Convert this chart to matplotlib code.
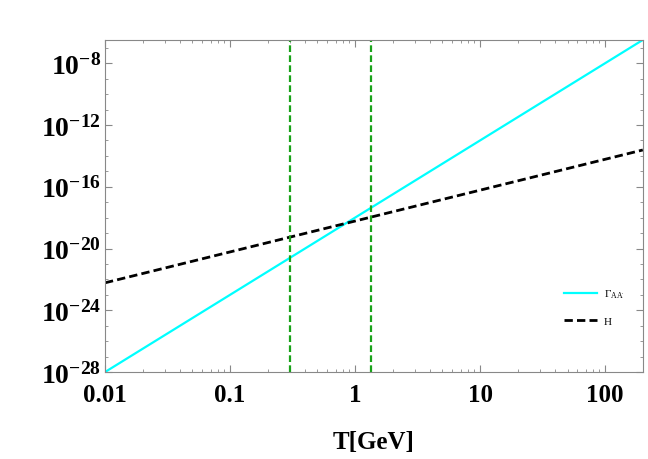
import numpy as np
import matplotlib
matplotlib.use("Agg")
import matplotlib.pyplot as plt
from matplotlib.ticker import FixedLocator, FixedFormatter, NullFormatter

# values (straight lines on log-log axes)
T_vals = [0.01, 200.0]
gamma_AA = [1.0e-28, 3.2e-7]
hubble = [6.0e-23, 2.4e-14]
T_lines = [0.3, 1.34]

x_ticks = [0.01, 0.1, 1, 10, 100]
x_labels = ["0.01", "0.1", "1", "10", "100"]
y_exps = [-28, -24, -20, -16, -12, -8]

plt.rcParams['font.family'] = 'Liberation Serif'
plt.rcParams['mathtext.fontset'] = 'custom'
plt.rcParams['mathtext.rm'] = 'Liberation Serif:bold'
plt.rcParams['mathtext.it'] = 'Liberation Serif:bold:italic'
plt.rcParams['mathtext.bf'] = 'Liberation Serif:bold'
plt.rcParams['mathtext.sf'] = 'Liberation Serif'
plt.rcParams['mathtext.default'] = 'rm'

fig = plt.figure(figsize=(6.48, 4.6), dpi=100)
ax = fig.add_axes([0.162, 0.189, 0.830, 0.722])

ax.plot(T_vals, gamma_AA, color='#00ffff', lw=1.6, label=r"$\mathsf{\Gamma_{AA^{\prime}}}$")
ax.plot(T_vals, hubble, color='black', lw=2.0, ls=(0, (3, 1.5)), label="H")
for tv in T_lines:
    ax.axvline(tv, color='#1aa31a', lw=1.6, ls=(0, (3, 1.5)))

ax.set_xscale('log')
ax.set_yscale('log')
ax.set_xlim(0.01, 200)
ax.set_ylim(1e-28, 3.2e-7)

ax.xaxis.set_major_locator(FixedLocator(x_ticks))
ax.xaxis.set_major_formatter(FixedFormatter(x_labels))
xminor = [m * 10.0**d for d in range(-2, 3) for m in range(2, 10)]
ax.xaxis.set_minor_locator(FixedLocator(xminor))
ax.xaxis.set_minor_formatter(NullFormatter())

ax.yaxis.set_major_locator(FixedLocator([10.0**e for e in y_exps]))
ax.yaxis.set_major_formatter(FixedFormatter([r"$10^{%d}$" % e for e in y_exps]))
ax.yaxis.set_minor_locator(FixedLocator([10.0**e for e in range(-28, -6)]))
ax.yaxis.set_minor_formatter(NullFormatter())

ax.tick_params(which='both', direction='in', top=True, right=True, color='#888888')
ax.tick_params(which='major', length=5, width=0.8)
ax.tick_params(which='minor', length=2.5, width=0.6)
ax.tick_params(axis='x', which='major', labelsize=18, pad=8)
ax.tick_params(axis='y', which='major', labelsize=20, pad=3)
for lab in ax.get_xticklabels():
    lab.set_fontweight('bold')
for sp in ax.spines.values():
    sp.set_color('#888888')
    sp.set_linewidth(0.8)

ax.set_xlabel("T[GeV]", fontsize=18, fontweight='bold', labelpad=17)

leg = ax.legend(loc='lower right', bbox_to_anchor=(0.985, 0.11), frameon=False,
                fontsize=8, handlelength=3.0, handletextpad=0.6, labelspacing=1.4)

fig.savefig("out.png", dpi=100)
